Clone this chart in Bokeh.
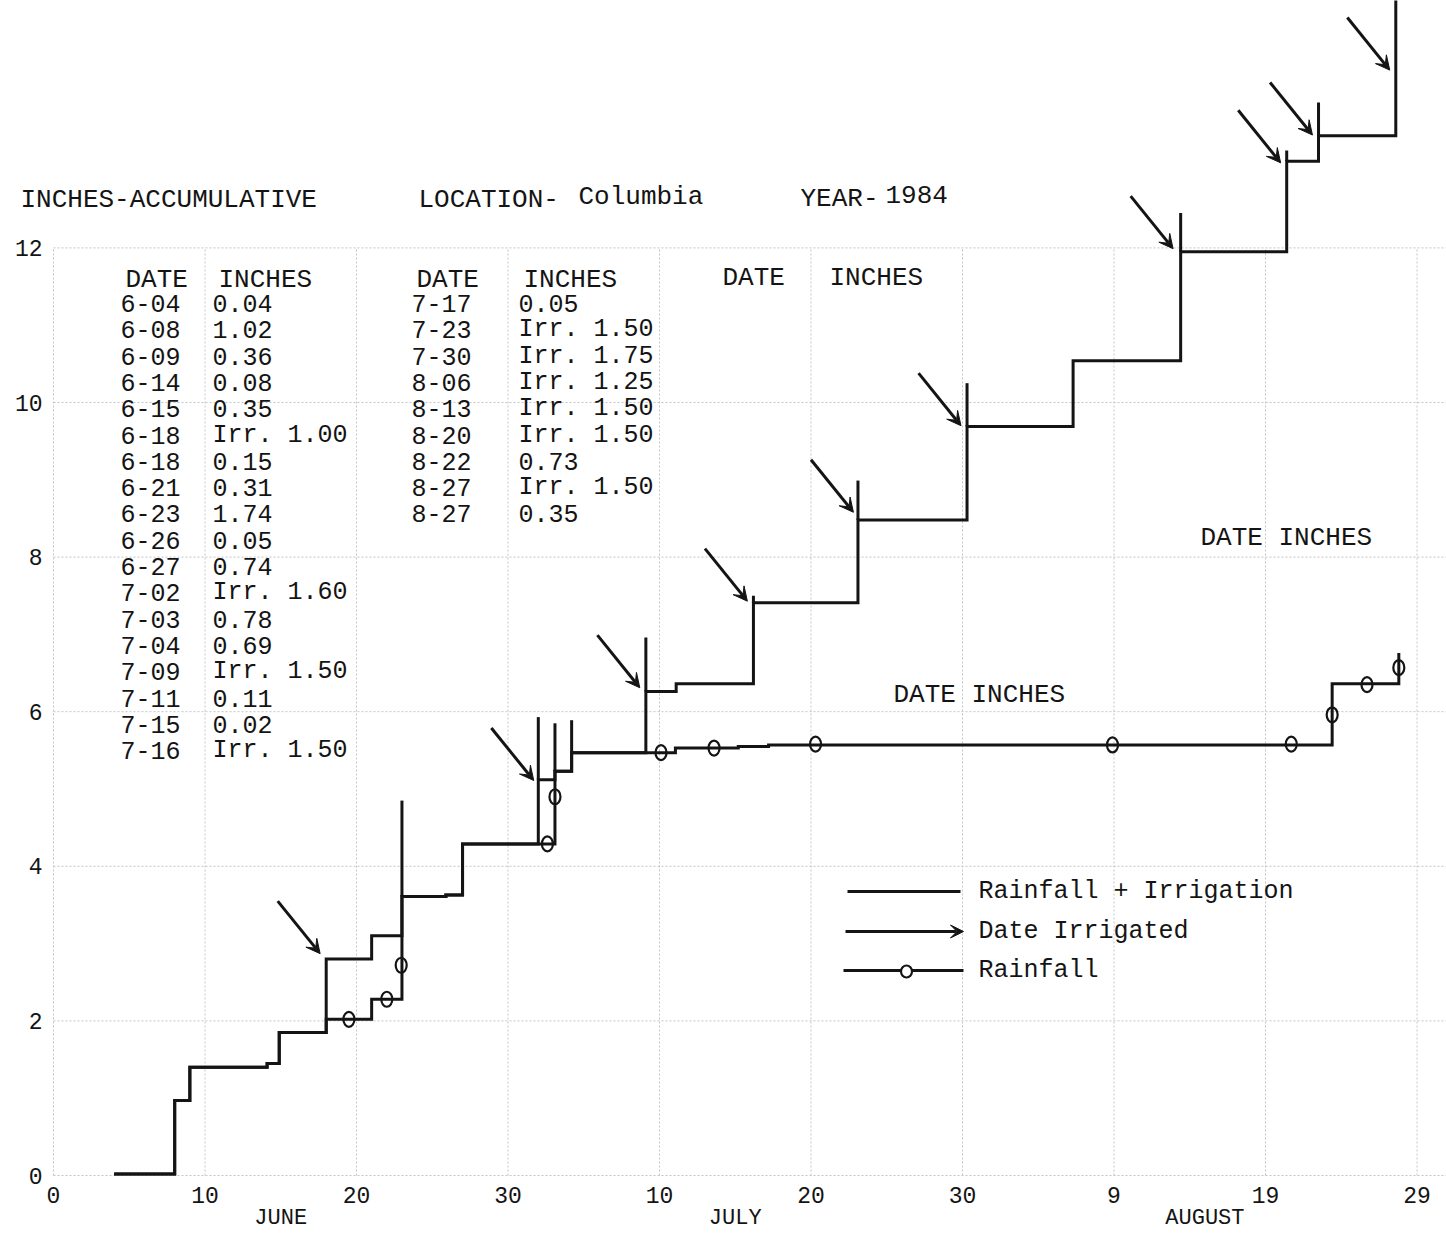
from bokeh.plotting import figure
from bokeh.models import (Range1d, LinearAxis, FixedTicker, Arrow, VeeHead,
                          ColumnDataSource)
from bokeh.core.properties import value
from bokeh.embed import file_html
from bokeh.resources import INLINE

# ---------------- data ----------------
# x = days counted from May 31 (June 30 = 30, July 31 = 61, Aug 29 = 90)
total_day = [4, 8, 9, 14.1, 14.9, 18, 21, 23, 25.9, 27, 32, 33.1, 34.2,
             39.1, 41.1, 46.2, 53.1, 60.3, 67.3, 74.4, 81.4, 83.5, 88.6]
total_in = [0.02, 0.97, 1.40, 1.45, 1.85, 2.80, 3.10, 3.61, 3.63, 4.29, 5.12,
            5.23, 5.47, 6.26, 6.36, 7.41, 8.48, 9.69, 10.54, 11.95, 13.12,
            13.45, 15.3]

spike_day = [23, 32, 33.1, 34.2, 39.1, 46.2, 53.1, 60.3, 74.4, 81.4, 83.5]
spike_top_in = [4.85, 5.93, 5.85, 5.89, 6.96, 7.50, 8.99, 10.25, 12.45,
                13.26, 13.88]

rain_day = [4, 8, 9, 14.1, 14.9, 18, 21, 23, 25.9, 27, 33.1, 34.2, 41.05,
            45.2, 47.2, 84.4, 88.8]
rain_in = [0.02, 0.97, 1.40, 1.45, 1.85, 2.02, 2.28, 3.61, 3.63, 4.29, 5.23,
           5.47, 5.53, 5.55, 5.57, 6.36, 6.76]

rain_mark_day = [19.5, 22.0, 22.95, 32.6, 33.1, 40.1, 43.6, 50.3, 69.9,
                 81.7, 84.4, 86.7, 88.8]
rain_mark_in = [2.02, 2.28, 2.72, 4.29, 4.90, 5.47, 5.53, 5.58, 5.57, 5.58,
                5.96, 6.35, 6.57]

irr_tip_day = [17.6, 31.7, 38.7, 45.8, 52.8, 59.9, 73.9, 81.0, 83.1, 88.2]
irr_tip_in = [2.87, 5.11, 6.31, 7.43, 8.58, 9.70, 11.99, 13.10, 13.46, 14.30]

x_tick_days = [0, 10, 20, 30, 40, 50, 60, 70, 80, 90]
x_tick_labels = ["0", "10", "20", "30", "10", "20", "30", "9", "19", "29"]
month_days = [15, 45, 76]
month_labels = ["JUNE", "JULY", "AUGUST"]
y_ticks = [0, 2, 4, 6, 8, 10, 12]

table1_dates = ["6-04", "6-08", "6-09", "6-14", "6-15", "6-18", "6-18",
                "6-21", "6-23", "6-26", "6-27", "7-02", "7-03", "7-04",
                "7-09", "7-11", "7-15", "7-16"]
table1_inches = ["0.04", "1.02", "0.36", "0.08", "0.35", "Irr. 1.00", "0.15",
                 "0.31", "1.74", "0.05", "0.74", "Irr. 1.60", "0.78", "0.69",
                 "Irr. 1.50", "0.11", "0.02", "Irr. 1.50"]
table2_dates = ["7-17", "7-23", "7-30", "8-06", "8-13", "8-20", "8-22",
                "8-27", "8-27"]
table2_inches = ["0.05", "Irr. 1.50", "Irr. 1.75", "Irr. 1.25", "Irr. 1.50",
                 "Irr. 1.50", "0.73", "Irr. 1.50", "0.35"]

# ---------------- layout (page pixel positions) ----------------
PAGE_X0, PX_PER_DAY = 53.0, 15.15
PAGE_Y0, PX_PER_IN = 1175.0, 77.3


def dx(px):
    return (px - PAGE_X0) / PX_PER_DAY


def vy(py):
    return (PAGE_Y0 - py) / PX_PER_IN


W, H = 1446, 1235
ORIGIN = 0                      # the page template has no body margin
FRAME_L, FRAME_T, FRAME_B = 2, 0, 1178
FONT = "Liberation Mono"
INK = "#141414"
GRID = "#c4c4c4"

p = figure(width=W, height=H, output_backend="svg", toolbar_location=None,
           x_range=Range1d(dx(FRAME_L), dx(ORIGIN + W)),
           y_range=Range1d(vy(FRAME_B), vy(FRAME_T)),
           min_border_left=FRAME_L - ORIGIN, min_border_right=0,
           min_border_top=FRAME_T - ORIGIN,
           min_border_bottom=H - (FRAME_B - ORIGIN),
           background_fill_color="white", border_fill_color="white",
           outline_line_color=None)

# axes
p.xaxis.ticker = FixedTicker(ticks=x_tick_days)
p.xaxis.major_label_overrides = dict(zip(x_tick_days, x_tick_labels))
p.yaxis.ticker = FixedTicker(ticks=y_ticks)
for ax in (p.xaxis, p.yaxis):
    ax.axis_line_color = None
    ax.major_tick_line_color = None
    ax.minor_tick_line_color = None
    ax.major_tick_out = 0
    ax.major_tick_in = 0
    ax.major_label_text_font = FONT
    ax.major_label_text_font_size = "23px"
    ax.major_label_text_color = INK
p.xaxis.major_label_standoff = 8
# y labels sit just left of the day-0 line, inside the plotting area
p.yaxis.major_label_standoff = -(42 - FRAME_L)

month_axis = LinearAxis(ticker=FixedTicker(ticks=month_days),
                        major_label_overrides=dict(zip(month_days, month_labels)),
                        axis_line_color=None, major_tick_line_color=None,
                        minor_tick_line_color=None, major_tick_out=0,
                        major_tick_in=0,
                        major_label_text_font=FONT,
                        major_label_text_font_size="22px",
                        major_label_text_color=INK,
                        major_label_standoff=0)
p.add_layout(month_axis, "below")

# graph-paper grid (major lines only, up to 12 inches)
p.xgrid.visible = False
p.ygrid.visible = False
p.segment(x0=x_tick_days, y0=[0] * len(x_tick_days), x1=x_tick_days,
          y1=[12] * len(x_tick_days), line_color=GRID, line_width=1,
          line_dash="2 2")
p.segment(x0=[0] * len(y_ticks), y0=y_ticks, x1=[dx(1446)] * len(y_ticks),
          y1=y_ticks, line_color=GRID, line_width=1, line_dash="2 2")

# rainfall + irrigation
p.step(x=total_day, y=total_in, mode="after", line_color=INK, line_width=3,
       line_join="miter")
spike_base = [total_in[total_day.index(d)] for d in spike_day]
p.segment(x0=spike_day, y0=spike_base, x1=spike_day, y1=spike_top_in,
          line_color=INK, line_width=3)

# rainfall
p.step(x=rain_day, y=rain_in, mode="after", line_color=INK, line_width=3,
       line_join="miter")
p.ellipse(x=rain_mark_day, y=rain_mark_in, width=11, height=15,
          width_units="screen", height_units="screen", fill_color=None,
          line_color=INK, line_width=2.2)

# date irrigated arrows
ARROW_DX, ARROW_DY = -2.8, 0.68
arr_src = ColumnDataSource(dict(
    xs=[d + ARROW_DX for d in irr_tip_day], ys=[v + ARROW_DY for v in irr_tip_in],
    xe=irr_tip_day, ye=irr_tip_in))
p.add_layout(Arrow(source=arr_src, x_start="xs", y_start="ys", x_end="xe",
                   y_end="ye", line_color=INK, line_width=3,
                   end=VeeHead(size=14, fill_color=INK, line_color=INK,
                               line_width=1)))


def txt(xs, ys, texts, size="25px"):
    p.text(x=[dx(x) for x in xs], y=[vy(y) for y in ys], text=texts,
           text_font=value(FONT), text_font_size=value(size),
           text_baseline="middle", text_align="left", text_color=INK)


# header row
txt([20, 418], [199, 199], ["INCHES-ACCUMULATIVE", "LOCATION-"], "26px")
txt([578], [196], ["Columbia"], "26px")
txt([800, 885], [198, 194], ["YEAR-", "1984"], "26px")

# tables
ROW0, ROW_STEP = 303.0, 26.3
rows1 = [ROW0 + ROW_STEP * i for i in range(len(table1_dates))]
rows2 = [ROW0 + ROW_STEP * i for i in range(len(table2_dates))]
txt([125, 218, 416, 523, 722, 829], [279, 279, 279, 279, 277, 277],
    ["DATE", "INCHES", "DATE", "INCHES", "DATE", "INCHES"], "26px")
txt([120] * len(rows1), rows1, table1_dates)
txt([212] * len(rows1), rows1, table1_inches)
txt([411] * len(rows2), rows2, table2_dates)
txt([518] * len(rows2), rows2, table2_inches)
txt([1200, 893], [537, 694], ["DATE INCHES", "DATE INCHES"], "26px")

# legend
p.line([dx(847), dx(960)], [vy(891)] * 2, line_color=INK, line_width=3)
p.add_layout(Arrow(x_start=dx(845), y_start=vy(931), x_end=dx(963),
                   y_end=vy(931), line_color=INK, line_width=3,
                   end=VeeHead(size=13, fill_color=INK, line_color=INK,
                               line_width=1)))
p.line([dx(843), dx(963)], [vy(970)] * 2, line_color=INK, line_width=3)
p.ellipse(x=[dx(906)], y=[vy(971)], width=11, height=12, width_units="screen",
          height_units="screen", fill_color="white", line_color=INK,
          line_width=2.2)
txt([978, 978, 978], [891, 931, 970],
    ["Rainfall + Irrigation", "Date Irrigated", "Rainfall"])

open("out.html", "w").write(file_html(p, INLINE))
